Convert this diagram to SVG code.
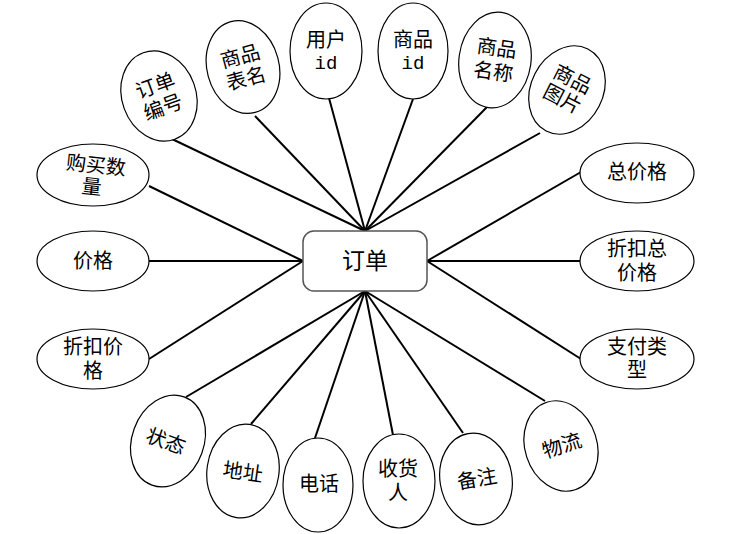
<svg xmlns="http://www.w3.org/2000/svg" width="740" height="534" viewBox="0 0 740 534">
<style>
.e{fill:#fff;stroke:#000;stroke-width:1.2}
.t{font-family:"Liberation Serif","Noto Sans CJK SC",serif;font-size:20px;fill:#000;text-anchor:middle;dominant-baseline:central}
.m{font-family:"Liberation Mono","Noto Sans CJK SC",monospace;font-size:19px}
.c line{stroke:#000;stroke-width:2}
</style>
<rect width="740" height="534" fill="#fff"/>
<g id="connectors" class="c">
<line x1="365" y1="231" x2="172" y2="139"/>
<line x1="365" y1="231" x2="255" y2="116"/>
<line x1="365" y1="231" x2="329" y2="98"/>
<line x1="365" y1="231" x2="413" y2="99"/>
<line x1="365" y1="231" x2="487" y2="107"/>
<line x1="365" y1="231" x2="540" y2="133"/>
<line x1="303" y1="261" x2="149" y2="186"/>
<line x1="303" y1="261" x2="149" y2="261"/>
<line x1="303" y1="261" x2="149" y2="359"/>
<line x1="427" y1="261" x2="581" y2="172"/>
<line x1="427" y1="261" x2="580" y2="261"/>
<line x1="427" y1="261" x2="581" y2="359"/>
<line x1="365" y1="291" x2="186" y2="397"/>
<line x1="365" y1="291" x2="251" y2="424"/>
<line x1="365" y1="291" x2="315" y2="438"/>
<line x1="365" y1="291" x2="393" y2="435"/>
<line x1="365" y1="291" x2="463" y2="433"/>
<line x1="365" y1="291" x2="545" y2="401"/>
</g>
<g id="order">
<rect x="303" y="231" width="124" height="60" rx="11" fill="#fff" stroke="#555" stroke-width="1.5"/>
<text class="t" x="365" y="261" style="font-size:23px">订单</text>
</g>
<g id="orderNo" transform="rotate(-20 159 96)">
<ellipse class="e" cx="159" cy="96" rx="37" ry="46"/>
<text class="t" x="159" y="85">订单</text>
<text class="t" x="159" y="108">编号</text>
</g>
<g id="tableName" transform="rotate(-15 243 67)">
<ellipse class="e" cx="243" cy="67" rx="36" ry="47"/>
<text class="t" x="243" y="56">商品</text>
<text class="t" x="243" y="79">表名</text>
</g>
<g id="userId">
<ellipse class="e" cx="326" cy="51" rx="36" ry="48"/>
<text class="t" x="326" y="40">用户</text>
<text class="t m" x="326" y="64">id</text>
</g>
<g id="goodsId">
<ellipse class="e" cx="413" cy="51" rx="35" ry="48"/>
<text class="t" x="413" y="40">商品</text>
<text class="t m" x="413" y="64">id</text>
</g>
<g id="goodsName" transform="rotate(8 495 60)">
<ellipse class="e" cx="495" cy="60" rx="36" ry="48"/>
<text class="t" x="495" y="48">商品</text>
<text class="t" x="495" y="72">名称</text>
</g>
<g id="goodsPic" transform="rotate(27 567 90)">
<ellipse class="e" cx="567" cy="90" rx="36" ry="46"/>
<text class="t" x="567" y="78">商品</text>
<text class="t" x="567" y="100">图片</text>
</g>
<g id="qty">
<ellipse class="e" cx="93" cy="175" rx="56" ry="31"/>
<g transform="rotate(6 93 175)">
<text class="t" x="95" y="165">购买数</text>
<text class="t" x="93" y="187">量</text>
</g>
</g>
<g id="price">
<ellipse class="e" cx="93" cy="261" rx="56" ry="30"/>
<text class="t" x="93" y="261">价格</text>
</g>
<g id="discPrice">
<ellipse class="e" cx="93" cy="359" rx="56" ry="30"/>
<text class="t" x="93" y="347">折扣价</text>
<text class="t" x="93" y="371">格</text>
</g>
<g id="total">
<ellipse class="e" cx="637" cy="173" rx="57" ry="30"/>
<text class="t" x="637" y="172">总价格</text>
</g>
<g id="discTotal">
<ellipse class="e" cx="637" cy="261" rx="57" ry="30"/>
<text class="t" x="637" y="249">折扣总</text>
<text class="t" x="637" y="273">价格</text>
</g>
<g id="payType">
<ellipse class="e" cx="637" cy="359" rx="57" ry="30"/>
<text class="t" x="637" y="347">支付类</text>
<text class="t" x="637" y="370">型</text>
</g>
<g id="status" transform="rotate(20 168 441)">
<ellipse class="e" cx="168" cy="441" rx="36" ry="47"/>
<text class="t" x="166" y="442">状态</text>
</g>
<g id="address" transform="rotate(8 243 471)">
<ellipse class="e" cx="243" cy="471" rx="36" ry="47"/>
<text class="t" x="243" y="472">地址</text>
</g>
<g id="phone">
<ellipse class="e" cx="318" cy="485" rx="35" ry="47"/>
<text class="t" x="319" y="484">电话</text>
</g>
<g id="receiver">
<ellipse class="e" cx="399" cy="481" rx="36" ry="47"/>
<text class="t" x="398" y="469">收货</text>
<text class="t" x="398" y="493">人</text>
</g>
<g id="remark" transform="rotate(-10 476 479)">
<ellipse class="e" cx="476" cy="479" rx="36" ry="46"/>
<text class="t" x="477" y="479">备注</text>
</g>
<g id="logistics" transform="rotate(-18 561 446)">
<ellipse class="e" cx="561" cy="446" rx="36" ry="46"/>
<text class="t" x="562" y="446">物流</text>
</g>
</svg>
